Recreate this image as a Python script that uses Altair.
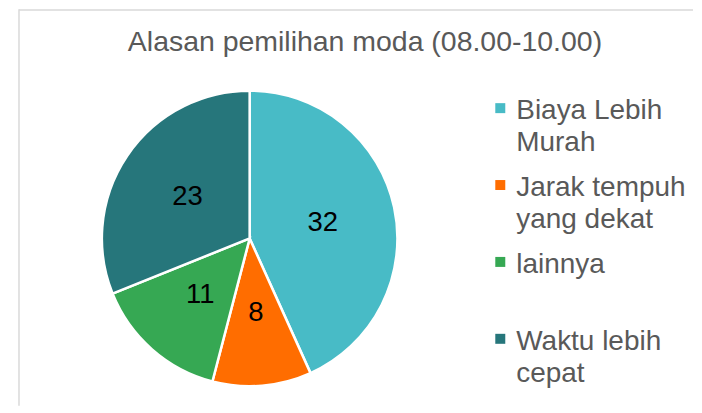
import altair as alt
import pandas as pd

# ---- data ----
categories = ["Biaya Lebih Murah", "Jarak tempuh yang dekat", "lainnya", "Waktu lebih cepat"]
legend_labels = ["Biaya Lebih\nMurah", "Jarak tempuh\nyang dekat", "lainnya", "Waktu lebih\ncepat"]
values = [32, 8, 11, 23]
colors = ["#48BBC6", "#FF6D00", "#36A853", "#26767B"]
title_text = "Alasan pemilihan moda (08.00-10.00)"

df = pd.DataFrame({
    "cat": categories,
    "label": legend_labels,
    "value": values,
    "order": list(range(len(categories))),
})
one = pd.DataFrame({"t": [title_text]})

FONT = "Liberation Sans"
W, H = 686, 397
CX, CY = 242, 229.5

color = alt.Color("cat:N", scale=alt.Scale(domain=categories, range=colors), legend=None)
theta = alt.Theta("value:Q", stack=True)
order = alt.Order("order:Q")
ylegend = alt.Y("cat:N", axis=None,
                scale=alt.Scale(type="point", domain=categories, range=[99, 330], padding=0))

base = alt.Chart(df)

arcs = base.mark_arc(outerRadius=148, stroke="white", strokeWidth=2.5).encode(
    theta=theta, order=order, color=color,
    x=alt.value(CX), y=alt.value(CY),
)

labels = base.mark_text(radius=75, fontSize=27.5, font=FONT, color="#000000",
                        baseline="middle", align="center").encode(
    theta=theta, order=order, text="value:Q",
    x=alt.value(CX), y=alt.value(CY),
)

squares = base.mark_point(shape="square", filled=True, size=100, opacity=1).encode(
    x=alt.value(493), y=ylegend, color=color,
)

legend_text = base.mark_text(align="left", baseline="alphabetic", dy=11, fontSize=28,
                             lineHeight=32, font=FONT, color="#595959",
                             lineBreak="\n").encode(
    x=alt.value(509), y=ylegend, text="label:N",
)

title = alt.Chart(one).mark_text(align="center", baseline="alphabetic", fontSize=28.5,
                                 font=FONT, color="#595959").encode(
    text="t:N", x=alt.value(357.5), y=alt.value(42),
)

border_left = alt.Chart(one).mark_rule(color="#D9D9D9", strokeWidth=1.5).encode(
    x=alt.value(11), y=alt.value(0), y2=alt.value(H),
)
border_top = alt.Chart(one).mark_rule(color="#D9D9D9", strokeWidth=1.5).encode(
    x=alt.value(11), x2=alt.value(W), y=alt.value(0.75),
)

chart = alt.layer(
    border_left, border_top, arcs, labels, squares, legend_text, title
).properties(
    width=W, height=H, padding=0
).configure_view(stroke=None)

chart.save("out.html", embed_options={"renderer": "svg", "actions": False})
